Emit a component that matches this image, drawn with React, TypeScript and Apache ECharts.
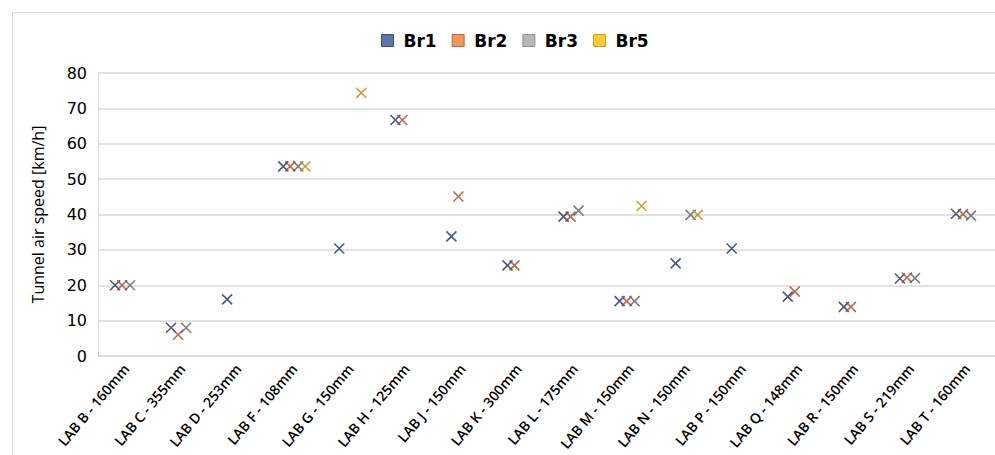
import React, { useEffect, useRef } from "react";
import * as echarts from "echarts";

const categories = [
  "LAB B - 160mm", "LAB C - 355mm", "LAB D - 253mm", "LAB F - 108mm",
  "LAB G - 150mm", "LAB H - 125mm", "LAB J - 150mm", "LAB K - 300mm",
  "LAB L - 175mm", "LAB M - 150mm", "LAB N - 150mm", "LAB P - 150mm",
  "LAB Q - 148mm", "LAB R - 150mm", "LAB S - 219mm", "LAB T - 160mm",
];
const br1 = [20, 8, 16, 53.6, 30.4, 66.7, 33.8, 25.6, 39.4, 15.5, 26.2, 30.4, 16.8, 13.9, 21.9, 40.2];
const br2 = [20, 6.0, null, 53.6, null, 66.7, 45.1, 25.6, 39.4, 15.5, null, null, 18.2, 13.9, 22.2, 40.1];
const br3 = [20, 8, null, 53.6, null, null, null, null, 41.1, 15.5, 39.9, null, null, null, 22.0, 39.7];
const br5 = [null, null, null, 53.6, 74.4, null, null, null, null, 42.4, 39.9, null, null, null, null, null];
const seriesNames = ["Br1", "Br2", "Br3", "Br5"];
const yTicks = { min: 0, max: 80, interval: 10 };

const markerColors = ["#1f2f5e", "#a9461c", "#5f5f5f", "#b8890f"];
const legendFill = ["#2f5597", "#ed7d31", "#a5a5a5", "#ffc000"];
const legendBorder = ["#1f3864", "#a0522d", "#7f7f7f", "#bf9000"];
const offsets = [-11, -4, 4, 11];

export default function App() {
  const ref = useRef<HTMLDivElement>(null);
  useEffect(() => {
    if (!ref.current) return;
    const chart = echarts.init(ref.current, null, { renderer: "svg" });
    const data = [br1, br2, br3, br5];
    chart.setOption({
      animation: false,
      backgroundColor: "#ffffff",
      graphic: [
        {
          type: "rect",
          shape: { x: 12.5, y: 12.5, width: 1000, height: 500 },
          style: { fill: "none", stroke: "#d9d9d9", lineWidth: 1 },
          silent: true,
        },
      ],
      legend: {
        top: 27,
        left: 376,
        itemWidth: 12,
        itemHeight: 12,
        itemGap: 15,
        textStyle: {
          fontFamily: "DejaVu Sans",
          fontWeight: "bold",
          fontSize: 17,
          color: "#000",
          padding: [0, 0, 0, 5],
        },
        data: seriesNames.map((n, i) => ({
          name: n,
          icon: "rect",
          itemStyle: { color: legendFill[i], borderColor: legendBorder[i], borderWidth: 1 },
        })),
      },
      grid: { left: 98, right: -1, top: 73, bottom: 99, containLabel: false },
      xAxis: {
        type: "category",
        data: categories,
        axisLine: { show: true, lineStyle: { color: "#d9d9d9", width: 1 } },
        axisTick: { show: false },
        axisLabel: {
          rotate: 50,
          interval: 0,
          margin: 10,
          fontFamily: "Open Sans, sans-serif",
          fontSize: 14,
          fontWeight: 600,
          color: "#000",
        },
      },
      yAxis: {
        type: "value",
        min: yTicks.min,
        max: yTicks.max,
        interval: yTicks.interval,
        name: "Tunnel air speed [km/h]",
        nameLocation: "middle",
        nameRotate: 90,
        nameGap: 52,
        nameTextStyle: { fontFamily: "Open Sans, sans-serif", fontSize: 16, color: "#000" },
        axisLine: { show: true, lineStyle: { color: "#d9d9d9", width: 1 } },
        axisTick: { show: false },
        splitLine: { lineStyle: { color: "#d9d9d9", width: 1.5 } },
        axisLabel: { fontFamily: "DejaVu Sans", fontSize: 16, color: "#000", margin: 11 },
      },
      series: seriesNames.map((n, i) => ({
        name: n,
        type: "scatter",
        data: data[i],
        symbol: "path://M0,0L10,10M10,0L0,10",
        symbolSize: 10,
        symbolOffset: [offsets[i], 0],
        itemStyle: { color: "none", borderColor: markerColors[i], borderWidth: 1.6 },
      })),
    });
    return () => chart.dispose();
  }, []);
  return (
    <div
      ref={ref}
      style={{ position: "fixed", left: 0, top: 0, width: 995, height: 455, background: "#fff" }}
    />
  );
}
